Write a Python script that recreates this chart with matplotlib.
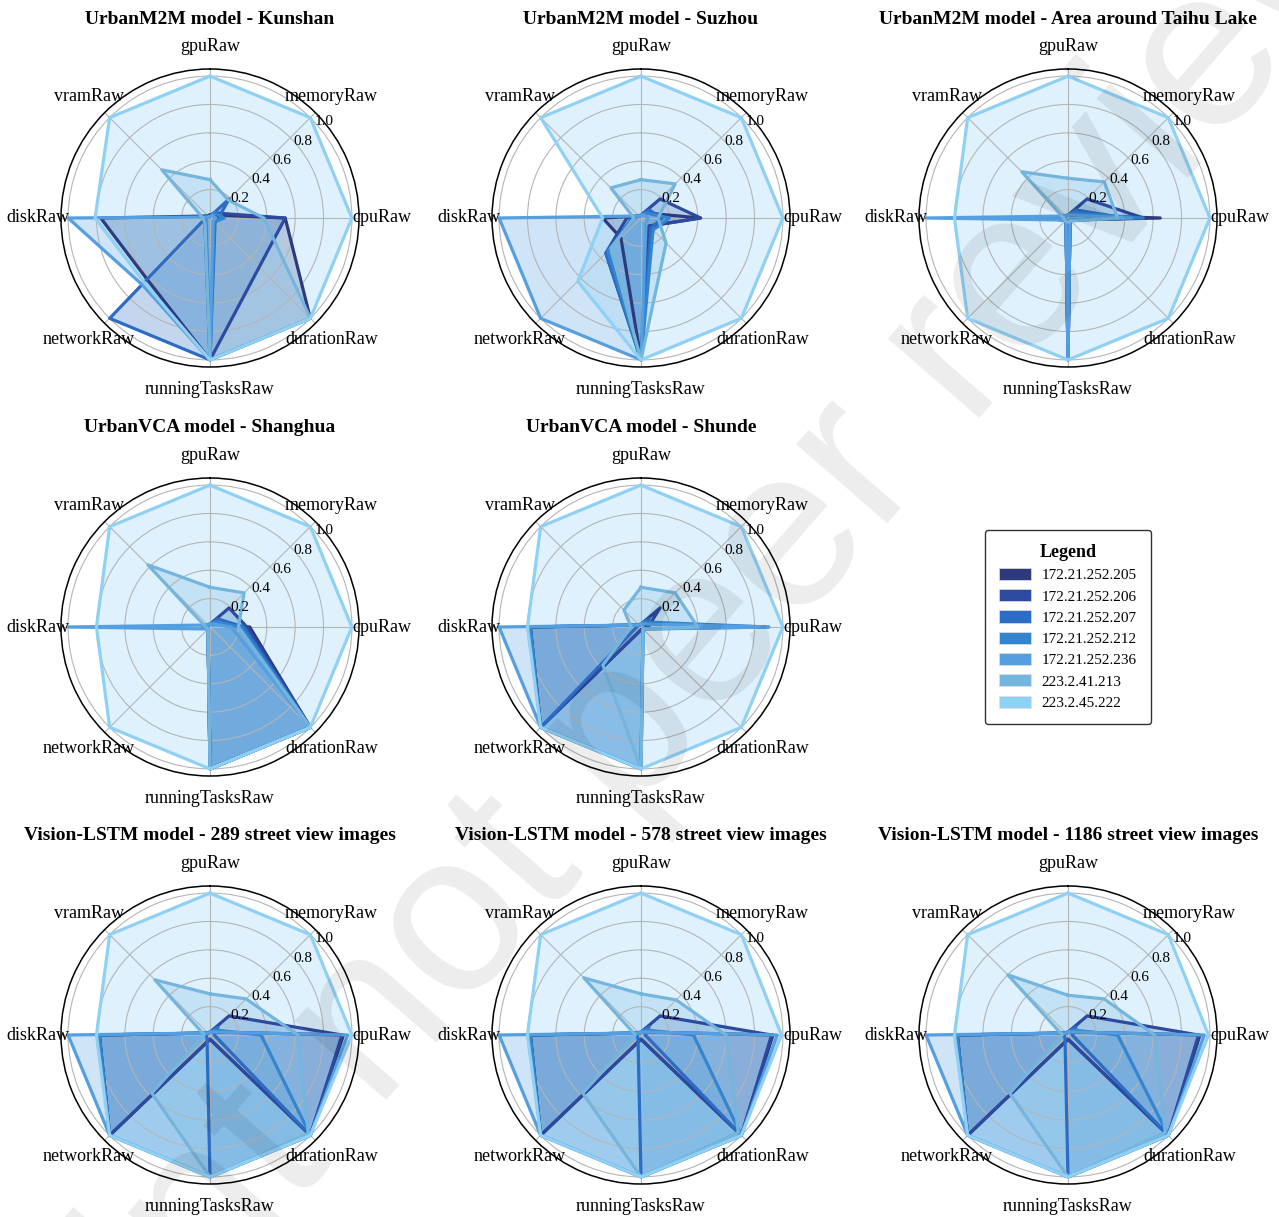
import numpy as np
import matplotlib.pyplot as plt
from matplotlib.patches import Patch

plt.rcParams['font.family'] = ['Liberation Serif', 'DejaVu Serif']

metrics = ["gpuRaw", "memoryRaw", "cpuRaw", "durationRaw",
           "runningTasksRaw", "networkRaw", "diskRaw", "vramRaw"]
hosts = ["172.21.252.205", "172.21.252.206", "172.21.252.207", "172.21.252.212",
         "172.21.252.236", "223.2.41.213", "223.2.45.222"]
colors = ["#2e3a7c", "#2c4aa0", "#2b6cc4", "#3385cf", "#559fe0", "#74b5de", "#8fd0f5"]

titles = ["UrbanM2M model - Kunshan", "UrbanM2M model - Suzhou",
          "UrbanM2M model - Area around Taihu Lake",
          "UrbanVCA model - Shanghua", "UrbanVCA model - Shunde",
          "Vision-LSTM model - 289 street view images",
          "Vision-LSTM model - 578 street view images",
          "Vision-LSTM model - 1186 street view images"]

# rows follow hosts, columns follow metrics (normalised 0-1)
kunshan = [[0.02, 0.03, 0.53, 1.00, 1.00, 0.62, 0.77, 0.02],
           [0.02, 0.05, 0.53, 0.49, 1.00, 0.05, 0.04, 0.02],
           [0.01, 0.19, 0.06, 0.05, 1.00, 1.00, 0.03, 0.01],
           [0.01, 0.05, 0.10, 0.04, 1.00, 0.04, 0.03, 0.01],
           [0.01, 0.03, 0.04, 0.03, 1.00, 0.67, 1.00, 0.01],
           [0.27, 0.18, 0.38, 1.00, 1.00, 0.05, 0.05, 0.48],
           [1.00, 1.00, 1.00, 1.00, 1.00, 0.65, 0.81, 1.00]]
suzhou = [[0.02, 0.05, 0.42, 0.08, 1.00, 0.20, 0.27, 0.02],
          [0.02, 0.19, 0.42, 0.08, 1.00, 0.35, 0.10, 0.02],
          [0.02, 0.08, 0.15, 0.10, 1.00, 0.35, 0.06, 0.02],
          [0.02, 0.05, 0.20, 0.12, 1.00, 0.33, 0.05, 0.02],
          [0.02, 0.03, 0.05, 0.05, 1.00, 1.00, 1.00, 0.02],
          [0.27, 0.34, 0.12, 0.25, 1.00, 0.30, 0.05, 0.30],
          [1.00, 1.00, 1.00, 1.00, 1.00, 0.63, 0.27, 1.00]]
taihu = [[0.02, 0.03, 0.65, 0.02, 1.00, 0.02, 0.20, 0.02],
         [0.02, 0.19, 0.53, 0.02, 1.00, 0.02, 0.22, 0.02],
         [0.02, 0.08, 0.40, 0.02, 1.00, 0.02, 0.22, 0.02],
         [0.02, 0.05, 0.53, 0.02, 1.00, 0.02, 0.22, 0.02],
         [0.02, 0.03, 0.45, 0.02, 1.00, 0.02, 1.00, 0.02],
         [0.28, 0.36, 0.35, 0.03, 0.03, 0.03, 0.03, 0.46],
         [1.00, 1.00, 1.00, 1.00, 1.00, 1.00, 0.80, 1.00]]
shanghua = [[0.02, 0.03, 0.28, 1.00, 1.00, 0.02, 0.05, 0.02],
            [0.02, 0.19, 0.26, 1.00, 1.00, 0.02, 0.05, 0.02],
            [0.02, 0.08, 0.24, 1.00, 1.00, 0.02, 0.05, 0.02],
            [0.02, 0.05, 0.22, 1.00, 1.00, 0.02, 0.05, 0.02],
            [0.02, 0.03, 0.15, 1.00, 1.00, 0.02, 1.00, 0.02],
            [0.28, 0.34, 0.20, 1.00, 1.00, 0.02, 0.03, 0.62],
            [1.00, 1.00, 1.00, 1.00, 1.00, 1.00, 0.80, 1.00]]
shunde = [[0.02, 0.03, 0.05, 0.02, 0.02, 1.00, 0.78, 0.02],
          [0.02, 0.19, 0.05, 0.02, 0.02, 1.00, 0.78, 0.02],
          [0.02, 0.08, 0.05, 0.02, 1.00, 1.00, 0.03, 0.02],
          [0.02, 0.05, 0.90, 0.02, 1.00, 1.00, 0.78, 0.02],
          [0.02, 0.03, 0.90, 0.02, 1.00, 1.00, 1.00, 0.02],
          [0.28, 0.34, 0.40, 0.02, 1.00, 0.38, 0.07, 0.17],
          [1.00, 1.00, 1.00, 1.00, 1.00, 1.00, 0.80, 1.00]]
vision289 = [[0.02, 0.03, 0.94, 1.00, 0.03, 1.00, 0.78, 0.02],
             [0.02, 0.19, 0.93, 1.00, 0.03, 1.00, 0.78, 0.02],
             [0.02, 0.08, 0.03, 1.00, 1.00, 0.03, 0.03, 0.02],
             [0.02, 0.05, 0.36, 1.00, 1.00, 1.00, 0.78, 0.02],
             [0.02, 0.03, 0.97, 1.00, 1.00, 1.00, 1.00, 0.02],
             [0.29, 0.36, 0.62, 0.98, 1.00, 0.58, 0.04, 0.55],
             [1.00, 1.00, 1.00, 1.00, 1.00, 1.00, 0.80, 1.00]]
vision578 = [[0.02, 0.03, 0.93, 1.00, 0.03, 1.00, 0.78, 0.02],
             [0.02, 0.19, 0.92, 1.00, 0.03, 1.00, 0.78, 0.02],
             [0.02, 0.08, 0.03, 1.00, 1.00, 0.03, 0.03, 0.02],
             [0.02, 0.05, 0.37, 1.00, 1.00, 1.00, 0.78, 0.02],
             [0.02, 0.03, 0.96, 1.00, 1.00, 1.00, 1.00, 0.02],
             [0.29, 0.35, 0.60, 0.97, 1.00, 0.58, 0.04, 0.57],
             [1.00, 1.00, 0.99, 1.00, 1.00, 1.00, 0.80, 1.00]]
vision1186 = [[0.02, 0.03, 0.93, 1.00, 0.03, 1.00, 0.78, 0.02],
              [0.02, 0.19, 0.92, 1.00, 0.03, 1.00, 0.78, 0.02],
              [0.02, 0.08, 0.03, 1.00, 1.00, 0.03, 0.03, 0.02],
              [0.02, 0.05, 0.35, 1.00, 1.00, 1.00, 0.78, 0.02],
              [0.02, 0.03, 0.96, 1.00, 1.00, 1.00, 1.00, 0.02],
              [0.28, 0.36, 0.61, 0.97, 1.00, 0.58, 0.04, 0.60],
              [1.00, 1.00, 0.99, 1.00, 1.00, 1.00, 0.80, 1.00]]

panels = [kunshan, suzhou, taihu, shanghua, shunde, vision289, vision578, vision1186]
r_ticks = [0.2, 0.4, 0.6, 0.8, 1.0]

# figure layout in pixels
W, H = 1279, 1217
col_x = [210, 641, 1068]
row_y = [218, 627, 1035]
slots = [(0, 0), (0, 1), (0, 2), (1, 0), (1, 1), (2, 0), (2, 1), (2, 2)]
rad = 149  # pixels from centre to outer circle (r = 1.05)

fig = plt.figure(figsize=(W / 100, H / 100), dpi=100)

angles = np.linspace(0, 2 * np.pi, len(metrics), endpoint=False)
angles_closed = np.concatenate([angles, angles[:1]])

for (row, col), title, data in zip(slots, titles, panels):
    cx, cy = col_x[col], row_y[row]
    ax = fig.add_axes([(cx - rad) / W, (H - cy - rad) / H, 2 * rad / W, 2 * rad / H],
                      projection='polar')
    ax.set_theta_offset(np.pi / 2)
    ax.set_theta_direction(-1)
    ax.set_ylim(0, 1.05)

    for vals, c in zip(data, colors):
        v = np.array(vals + vals[:1])
        ax.plot(angles_closed, v, color=c, linewidth=2.3)
        ax.fill(angles_closed, v, color=c, alpha=0.28)

    ax.set_xticks(angles)
    ax.set_xticklabels([])
    ax.set_yticks(r_ticks)
    ax.set_yticklabels([])
    ax.grid(color='#b5b5b5', linewidth=0.8)
    ax.spines['polar'].set_color('black')
    ax.spines['polar'].set_linewidth(1.1)

    for a, name in zip(angles, metrics):
        ax.text(a, 1.21, name, ha='center', va='center', fontsize=13)
    for r in r_ticks:
        ax.text(np.pi / 4 + 0.04, r, "%.1f" % r, ha='left', va='center', fontsize=11)

    fig.text(cx / W, 1 - (cy - 199) / H, title, ha='center', va='center',
             fontsize=14, fontweight='bold')

handles = [Patch(facecolor=c, edgecolor='#e0e0e0', linewidth=0.5) for c in colors]
leg = fig.legend(handles, hosts, loc='center',
                 bbox_to_anchor=(col_x[2] / W, 1 - row_y[1] / H),
                 title="Legend", fontsize=11, title_fontproperties={'weight': 'bold', 'size': 13},
                 handlelength=2.1, handleheight=0.85, handletextpad=0.7,
                 labelspacing=0.45, borderpad=0.9, fancybox=True, framealpha=1)
leg.get_frame().set_edgecolor('#333333')
leg.get_frame().set_linewidth(1.0)

fig.text(645 / W, 1 - 712 / H, "Preprint not peer reviewed", fontsize=165,
         rotation=49, rotation_mode='anchor', ha='center', va='center',
         color='black', alpha=0.075, family='Liberation Sans', zorder=10)

fig.savefig('out.png', dpi=100)
